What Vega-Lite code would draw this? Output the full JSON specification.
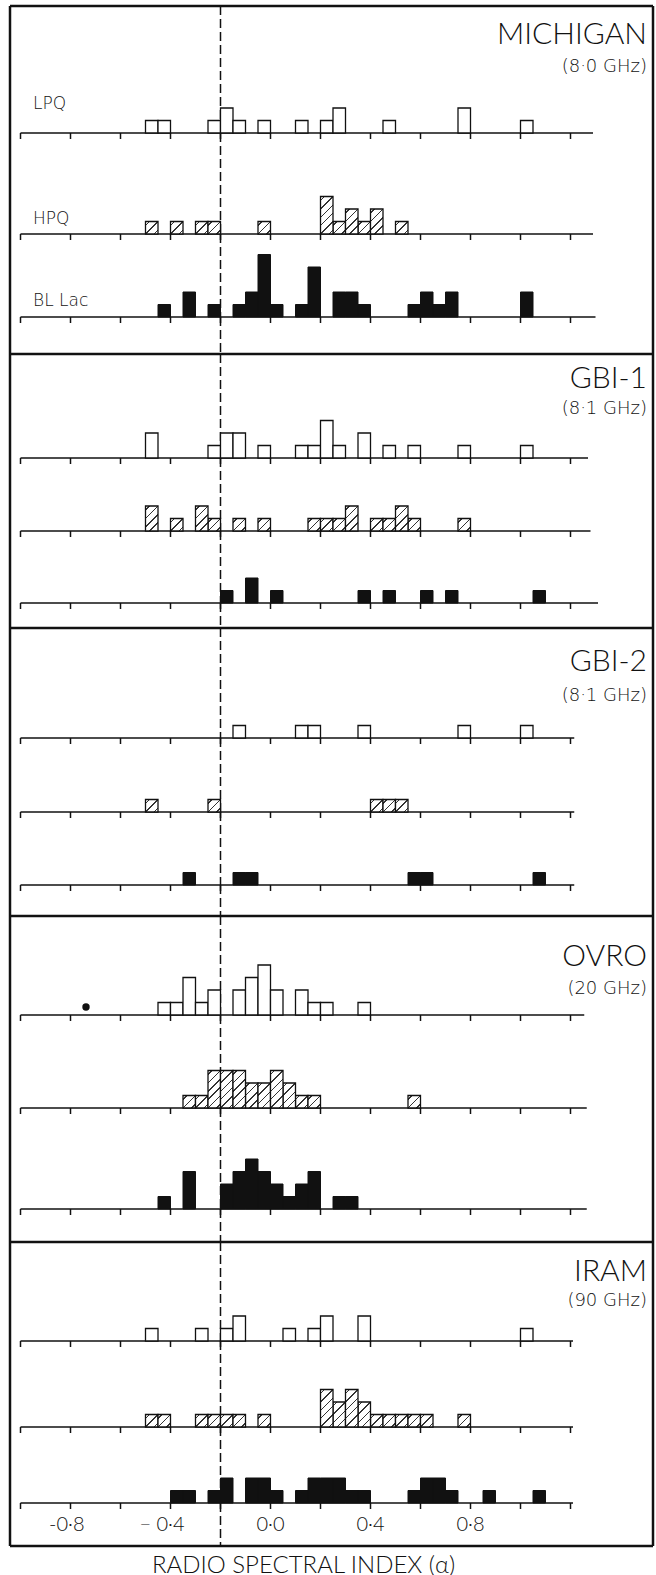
{
"$schema": "https://vega.github.io/schema/vega-lite/v6.json",
"background": "white",
"padding": {"left": 8, "top": 4, "right": 0, "bottom": 0},
"spacing": 0,
"bounds": "flush",
"config": {"view": {"stroke": null}, "font": "Lato"},
"datasets": {
"ticks": [{"v":-1},{"v":-0.8},{"v":-0.6},{"v":-0.4},{"v":-0.2},{"v":0},{"v":0.2},{"v":0.4},{"v":0.6},{"v":0.8},{"v":1},{"v":1.2}],
"ticklabels": [{"v":-0.8,"label":"-0·8"},{"v":-0.4,"label":"− 0·4"},{"v":0,"label":"0·0"},{"v":0.4,"label":"0·4"},{"v":0.8,"label":"0·8"}],
"bins": [
{"panel":"MICHIGAN","cls":"LPQ","lo":-0.5,"hi":-0.45,"n":1},
{"panel":"MICHIGAN","cls":"LPQ","lo":-0.45,"hi":-0.4,"n":1},
{"panel":"MICHIGAN","cls":"LPQ","lo":-0.25,"hi":-0.2,"n":1},
{"panel":"MICHIGAN","cls":"LPQ","lo":-0.2,"hi":-0.15,"n":2},
{"panel":"MICHIGAN","cls":"LPQ","lo":-0.15,"hi":-0.1,"n":1},
{"panel":"MICHIGAN","cls":"LPQ","lo":-0.05,"hi":0,"n":1},
{"panel":"MICHIGAN","cls":"LPQ","lo":0.1,"hi":0.15,"n":1},
{"panel":"MICHIGAN","cls":"LPQ","lo":0.2,"hi":0.25,"n":1},
{"panel":"MICHIGAN","cls":"LPQ","lo":0.25,"hi":0.3,"n":2},
{"panel":"MICHIGAN","cls":"LPQ","lo":0.45,"hi":0.5,"n":1},
{"panel":"MICHIGAN","cls":"LPQ","lo":0.75,"hi":0.8,"n":2},
{"panel":"MICHIGAN","cls":"LPQ","lo":1.0,"hi":1.05,"n":1},
{"panel":"MICHIGAN","cls":"HPQ","lo":-0.5,"hi":-0.45,"n":1},
{"panel":"MICHIGAN","cls":"HPQ","lo":-0.4,"hi":-0.35,"n":1},
{"panel":"MICHIGAN","cls":"HPQ","lo":-0.3,"hi":-0.25,"n":1},
{"panel":"MICHIGAN","cls":"HPQ","lo":-0.25,"hi":-0.2,"n":1},
{"panel":"MICHIGAN","cls":"HPQ","lo":-0.05,"hi":0,"n":1},
{"panel":"MICHIGAN","cls":"HPQ","lo":0.2,"hi":0.25,"n":3},
{"panel":"MICHIGAN","cls":"HPQ","lo":0.25,"hi":0.3,"n":1},
{"panel":"MICHIGAN","cls":"HPQ","lo":0.3,"hi":0.35,"n":2},
{"panel":"MICHIGAN","cls":"HPQ","lo":0.35,"hi":0.4,"n":1},
{"panel":"MICHIGAN","cls":"HPQ","lo":0.4,"hi":0.45,"n":2},
{"panel":"MICHIGAN","cls":"HPQ","lo":0.5,"hi":0.55,"n":1},
{"panel":"MICHIGAN","cls":"BL Lac","lo":-0.45,"hi":-0.4,"n":1},
{"panel":"MICHIGAN","cls":"BL Lac","lo":-0.35,"hi":-0.3,"n":2},
{"panel":"MICHIGAN","cls":"BL Lac","lo":-0.25,"hi":-0.2,"n":1},
{"panel":"MICHIGAN","cls":"BL Lac","lo":-0.15,"hi":-0.1,"n":1},
{"panel":"MICHIGAN","cls":"BL Lac","lo":-0.1,"hi":-0.05,"n":2},
{"panel":"MICHIGAN","cls":"BL Lac","lo":-0.05,"hi":0,"n":5},
{"panel":"MICHIGAN","cls":"BL Lac","lo":0,"hi":0.05,"n":1},
{"panel":"MICHIGAN","cls":"BL Lac","lo":0.1,"hi":0.15,"n":1},
{"panel":"MICHIGAN","cls":"BL Lac","lo":0.15,"hi":0.2,"n":4},
{"panel":"MICHIGAN","cls":"BL Lac","lo":0.25,"hi":0.3,"n":2},
{"panel":"MICHIGAN","cls":"BL Lac","lo":0.3,"hi":0.35,"n":2},
{"panel":"MICHIGAN","cls":"BL Lac","lo":0.35,"hi":0.4,"n":1},
{"panel":"MICHIGAN","cls":"BL Lac","lo":0.55,"hi":0.6,"n":1},
{"panel":"MICHIGAN","cls":"BL Lac","lo":0.6,"hi":0.65,"n":2},
{"panel":"MICHIGAN","cls":"BL Lac","lo":0.65,"hi":0.7,"n":1},
{"panel":"MICHIGAN","cls":"BL Lac","lo":0.7,"hi":0.75,"n":2},
{"panel":"MICHIGAN","cls":"BL Lac","lo":1.0,"hi":1.05,"n":2},
{"panel":"GBI-1","cls":"LPQ","lo":-0.5,"hi":-0.45,"n":2},
{"panel":"GBI-1","cls":"LPQ","lo":-0.25,"hi":-0.2,"n":1},
{"panel":"GBI-1","cls":"LPQ","lo":-0.2,"hi":-0.15,"n":2},
{"panel":"GBI-1","cls":"LPQ","lo":-0.15,"hi":-0.1,"n":2},
{"panel":"GBI-1","cls":"LPQ","lo":-0.05,"hi":0,"n":1},
{"panel":"GBI-1","cls":"LPQ","lo":0.1,"hi":0.15,"n":1},
{"panel":"GBI-1","cls":"LPQ","lo":0.15,"hi":0.2,"n":1},
{"panel":"GBI-1","cls":"LPQ","lo":0.2,"hi":0.25,"n":3},
{"panel":"GBI-1","cls":"LPQ","lo":0.25,"hi":0.3,"n":1},
{"panel":"GBI-1","cls":"LPQ","lo":0.35,"hi":0.4,"n":2},
{"panel":"GBI-1","cls":"LPQ","lo":0.45,"hi":0.5,"n":1},
{"panel":"GBI-1","cls":"LPQ","lo":0.55,"hi":0.6,"n":1},
{"panel":"GBI-1","cls":"LPQ","lo":0.75,"hi":0.8,"n":1},
{"panel":"GBI-1","cls":"LPQ","lo":1.0,"hi":1.05,"n":1},
{"panel":"GBI-1","cls":"HPQ","lo":-0.5,"hi":-0.45,"n":2},
{"panel":"GBI-1","cls":"HPQ","lo":-0.4,"hi":-0.35,"n":1},
{"panel":"GBI-1","cls":"HPQ","lo":-0.3,"hi":-0.25,"n":2},
{"panel":"GBI-1","cls":"HPQ","lo":-0.25,"hi":-0.2,"n":1},
{"panel":"GBI-1","cls":"HPQ","lo":-0.15,"hi":-0.1,"n":1},
{"panel":"GBI-1","cls":"HPQ","lo":-0.05,"hi":0,"n":1},
{"panel":"GBI-1","cls":"HPQ","lo":0.15,"hi":0.2,"n":1},
{"panel":"GBI-1","cls":"HPQ","lo":0.2,"hi":0.25,"n":1},
{"panel":"GBI-1","cls":"HPQ","lo":0.25,"hi":0.3,"n":1},
{"panel":"GBI-1","cls":"HPQ","lo":0.3,"hi":0.35,"n":2},
{"panel":"GBI-1","cls":"HPQ","lo":0.4,"hi":0.45,"n":1},
{"panel":"GBI-1","cls":"HPQ","lo":0.45,"hi":0.5,"n":1},
{"panel":"GBI-1","cls":"HPQ","lo":0.5,"hi":0.55,"n":2},
{"panel":"GBI-1","cls":"HPQ","lo":0.55,"hi":0.6,"n":1},
{"panel":"GBI-1","cls":"HPQ","lo":0.75,"hi":0.8,"n":1},
{"panel":"GBI-1","cls":"BL Lac","lo":-0.2,"hi":-0.15,"n":1},
{"panel":"GBI-1","cls":"BL Lac","lo":-0.1,"hi":-0.05,"n":2},
{"panel":"GBI-1","cls":"BL Lac","lo":0,"hi":0.05,"n":1},
{"panel":"GBI-1","cls":"BL Lac","lo":0.35,"hi":0.4,"n":1},
{"panel":"GBI-1","cls":"BL Lac","lo":0.45,"hi":0.5,"n":1},
{"panel":"GBI-1","cls":"BL Lac","lo":0.6,"hi":0.65,"n":1},
{"panel":"GBI-1","cls":"BL Lac","lo":0.7,"hi":0.75,"n":1},
{"panel":"GBI-1","cls":"BL Lac","lo":1.05,"hi":1.1,"n":1},
{"panel":"GBI-2","cls":"LPQ","lo":-0.15,"hi":-0.1,"n":1},
{"panel":"GBI-2","cls":"LPQ","lo":0.1,"hi":0.15,"n":1},
{"panel":"GBI-2","cls":"LPQ","lo":0.15,"hi":0.2,"n":1},
{"panel":"GBI-2","cls":"LPQ","lo":0.35,"hi":0.4,"n":1},
{"panel":"GBI-2","cls":"LPQ","lo":0.75,"hi":0.8,"n":1},
{"panel":"GBI-2","cls":"LPQ","lo":1.0,"hi":1.05,"n":1},
{"panel":"GBI-2","cls":"HPQ","lo":-0.5,"hi":-0.45,"n":1},
{"panel":"GBI-2","cls":"HPQ","lo":-0.25,"hi":-0.2,"n":1},
{"panel":"GBI-2","cls":"HPQ","lo":0.4,"hi":0.45,"n":1},
{"panel":"GBI-2","cls":"HPQ","lo":0.45,"hi":0.5,"n":1},
{"panel":"GBI-2","cls":"HPQ","lo":0.5,"hi":0.55,"n":1},
{"panel":"GBI-2","cls":"BL Lac","lo":-0.35,"hi":-0.3,"n":1},
{"panel":"GBI-2","cls":"BL Lac","lo":-0.15,"hi":-0.1,"n":1},
{"panel":"GBI-2","cls":"BL Lac","lo":-0.1,"hi":-0.05,"n":1},
{"panel":"GBI-2","cls":"BL Lac","lo":0.55,"hi":0.6,"n":1},
{"panel":"GBI-2","cls":"BL Lac","lo":0.6,"hi":0.65,"n":1},
{"panel":"GBI-2","cls":"BL Lac","lo":1.05,"hi":1.1,"n":1},
{"panel":"OVRO","cls":"LPQ","lo":-0.45,"hi":-0.4,"n":1},
{"panel":"OVRO","cls":"LPQ","lo":-0.4,"hi":-0.35,"n":1},
{"panel":"OVRO","cls":"LPQ","lo":-0.35,"hi":-0.3,"n":3},
{"panel":"OVRO","cls":"LPQ","lo":-0.3,"hi":-0.25,"n":1},
{"panel":"OVRO","cls":"LPQ","lo":-0.25,"hi":-0.2,"n":2},
{"panel":"OVRO","cls":"LPQ","lo":-0.15,"hi":-0.1,"n":2},
{"panel":"OVRO","cls":"LPQ","lo":-0.1,"hi":-0.05,"n":3},
{"panel":"OVRO","cls":"LPQ","lo":-0.05,"hi":0,"n":4},
{"panel":"OVRO","cls":"LPQ","lo":0,"hi":0.05,"n":2},
{"panel":"OVRO","cls":"LPQ","lo":0.1,"hi":0.15,"n":2},
{"panel":"OVRO","cls":"LPQ","lo":0.15,"hi":0.2,"n":1},
{"panel":"OVRO","cls":"LPQ","lo":0.2,"hi":0.25,"n":1},
{"panel":"OVRO","cls":"LPQ","lo":0.35,"hi":0.4,"n":1},
{"panel":"OVRO","cls":"HPQ","lo":-0.35,"hi":-0.3,"n":1},
{"panel":"OVRO","cls":"HPQ","lo":-0.3,"hi":-0.25,"n":1},
{"panel":"OVRO","cls":"HPQ","lo":-0.25,"hi":-0.2,"n":3},
{"panel":"OVRO","cls":"HPQ","lo":-0.2,"hi":-0.15,"n":3},
{"panel":"OVRO","cls":"HPQ","lo":-0.15,"hi":-0.1,"n":3},
{"panel":"OVRO","cls":"HPQ","lo":-0.1,"hi":-0.05,"n":2},
{"panel":"OVRO","cls":"HPQ","lo":-0.05,"hi":0,"n":2},
{"panel":"OVRO","cls":"HPQ","lo":0,"hi":0.05,"n":3},
{"panel":"OVRO","cls":"HPQ","lo":0.05,"hi":0.1,"n":2},
{"panel":"OVRO","cls":"HPQ","lo":0.1,"hi":0.15,"n":1},
{"panel":"OVRO","cls":"HPQ","lo":0.15,"hi":0.2,"n":1},
{"panel":"OVRO","cls":"HPQ","lo":0.55,"hi":0.6,"n":1},
{"panel":"OVRO","cls":"BL Lac","lo":-0.45,"hi":-0.4,"n":1},
{"panel":"OVRO","cls":"BL Lac","lo":-0.35,"hi":-0.3,"n":3},
{"panel":"OVRO","cls":"BL Lac","lo":-0.2,"hi":-0.15,"n":2},
{"panel":"OVRO","cls":"BL Lac","lo":-0.15,"hi":-0.1,"n":3},
{"panel":"OVRO","cls":"BL Lac","lo":-0.1,"hi":-0.05,"n":4},
{"panel":"OVRO","cls":"BL Lac","lo":-0.05,"hi":0,"n":3},
{"panel":"OVRO","cls":"BL Lac","lo":0,"hi":0.05,"n":2},
{"panel":"OVRO","cls":"BL Lac","lo":0.05,"hi":0.1,"n":1},
{"panel":"OVRO","cls":"BL Lac","lo":0.1,"hi":0.15,"n":2},
{"panel":"OVRO","cls":"BL Lac","lo":0.15,"hi":0.2,"n":3},
{"panel":"OVRO","cls":"BL Lac","lo":0.25,"hi":0.3,"n":1},
{"panel":"OVRO","cls":"BL Lac","lo":0.3,"hi":0.35,"n":1},
{"panel":"IRAM","cls":"LPQ","lo":-0.5,"hi":-0.45,"n":1},
{"panel":"IRAM","cls":"LPQ","lo":-0.3,"hi":-0.25,"n":1},
{"panel":"IRAM","cls":"LPQ","lo":-0.2,"hi":-0.15,"n":1},
{"panel":"IRAM","cls":"LPQ","lo":-0.15,"hi":-0.1,"n":2},
{"panel":"IRAM","cls":"LPQ","lo":0.05,"hi":0.1,"n":1},
{"panel":"IRAM","cls":"LPQ","lo":0.15,"hi":0.2,"n":1},
{"panel":"IRAM","cls":"LPQ","lo":0.2,"hi":0.25,"n":2},
{"panel":"IRAM","cls":"LPQ","lo":0.35,"hi":0.4,"n":2},
{"panel":"IRAM","cls":"LPQ","lo":1.0,"hi":1.05,"n":1},
{"panel":"IRAM","cls":"HPQ","lo":-0.5,"hi":-0.45,"n":1},
{"panel":"IRAM","cls":"HPQ","lo":-0.45,"hi":-0.4,"n":1},
{"panel":"IRAM","cls":"HPQ","lo":-0.3,"hi":-0.25,"n":1},
{"panel":"IRAM","cls":"HPQ","lo":-0.25,"hi":-0.2,"n":1},
{"panel":"IRAM","cls":"HPQ","lo":-0.2,"hi":-0.15,"n":1},
{"panel":"IRAM","cls":"HPQ","lo":-0.15,"hi":-0.1,"n":1},
{"panel":"IRAM","cls":"HPQ","lo":-0.05,"hi":0,"n":1},
{"panel":"IRAM","cls":"HPQ","lo":0.2,"hi":0.25,"n":3},
{"panel":"IRAM","cls":"HPQ","lo":0.25,"hi":0.3,"n":2},
{"panel":"IRAM","cls":"HPQ","lo":0.3,"hi":0.35,"n":3},
{"panel":"IRAM","cls":"HPQ","lo":0.35,"hi":0.4,"n":2},
{"panel":"IRAM","cls":"HPQ","lo":0.4,"hi":0.45,"n":1},
{"panel":"IRAM","cls":"HPQ","lo":0.45,"hi":0.5,"n":1},
{"panel":"IRAM","cls":"HPQ","lo":0.5,"hi":0.55,"n":1},
{"panel":"IRAM","cls":"HPQ","lo":0.55,"hi":0.6,"n":1},
{"panel":"IRAM","cls":"HPQ","lo":0.6,"hi":0.65,"n":1},
{"panel":"IRAM","cls":"HPQ","lo":0.75,"hi":0.8,"n":1},
{"panel":"IRAM","cls":"BL Lac","lo":-0.4,"hi":-0.35,"n":1},
{"panel":"IRAM","cls":"BL Lac","lo":-0.35,"hi":-0.3,"n":1},
{"panel":"IRAM","cls":"BL Lac","lo":-0.25,"hi":-0.2,"n":1},
{"panel":"IRAM","cls":"BL Lac","lo":-0.2,"hi":-0.15,"n":2},
{"panel":"IRAM","cls":"BL Lac","lo":-0.1,"hi":-0.05,"n":2},
{"panel":"IRAM","cls":"BL Lac","lo":-0.05,"hi":0,"n":2},
{"panel":"IRAM","cls":"BL Lac","lo":0,"hi":0.05,"n":1},
{"panel":"IRAM","cls":"BL Lac","lo":0.1,"hi":0.15,"n":1},
{"panel":"IRAM","cls":"BL Lac","lo":0.15,"hi":0.2,"n":2},
{"panel":"IRAM","cls":"BL Lac","lo":0.2,"hi":0.25,"n":2},
{"panel":"IRAM","cls":"BL Lac","lo":0.25,"hi":0.3,"n":2},
{"panel":"IRAM","cls":"BL Lac","lo":0.3,"hi":0.35,"n":1},
{"panel":"IRAM","cls":"BL Lac","lo":0.35,"hi":0.4,"n":1},
{"panel":"IRAM","cls":"BL Lac","lo":0.55,"hi":0.6,"n":1},
{"panel":"IRAM","cls":"BL Lac","lo":0.6,"hi":0.65,"n":2},
{"panel":"IRAM","cls":"BL Lac","lo":0.65,"hi":0.7,"n":2},
{"panel":"IRAM","cls":"BL Lac","lo":0.7,"hi":0.75,"n":1},
{"panel":"IRAM","cls":"BL Lac","lo":0.85,"hi":0.9,"n":1},
{"panel":"IRAM","cls":"BL Lac","lo":1.05,"hi":1.1,"n":1}
]},
"vconcat": [
{"width": 643, "height": 127, "layer": [
 {"data":{"values":[{}]},"mark":{"type":"rule","strokeWidth":2.5,"color":"#111"},"encoding":{"x":{"datum":-1.042,"type":"quantitative","scale":{"domain":[-1.042,1.53],"nice":false,"zero":false},"axis":null}}},
 {"data":{"values":[{}]},"mark":{"type":"rule","strokeWidth":2.5,"color":"#111"},"encoding":{"x":{"datum":1.53,"type":"quantitative","scale":{"domain":[-1.042,1.53],"nice":false,"zero":false},"axis":null}}},
 {"data":{"values":[{}]},"mark":{"type":"rule","strokeWidth":2.5,"color":"#111"},"encoding":{"y":{"datum":10.16,"type":"quantitative","scale":{"domain":[0,10.16],"nice":false,"zero":false},"axis":null}}},
 {"data":{"values":[{}]},"mark":{"type":"rule","strokeWidth":1.5,"strokeDash":[9,4],"color":"#111"},"encoding":{"x":{"datum":-0.2,"type":"quantitative","scale":{"domain":[-1.042,1.53],"nice":false,"zero":false},"axis":null}}},
 {"data":{"values":[{}]},"mark":{"type":"rule","strokeWidth":1.6,"color":"#111"},"encoding":{"x":{"datum":-1.0,"type":"quantitative","scale":{"domain":[-1.042,1.53],"nice":false,"zero":false},"axis":null},"x2":{"datum":1.29},"y":{"datum":0,"type":"quantitative","scale":{"domain":[0,10.16],"nice":false,"zero":false},"axis":null}}},
 {"data":{"name":"ticks"},"mark":{"type":"rule","strokeWidth":1.5,"color":"#111"},"encoding":{"x":{"field":"v","type":"quantitative","scale":{"domain":[-1.042,1.53],"nice":false,"zero":false},"axis":null},"y":{"datum":0,"type":"quantitative","scale":{"domain":[0,10.16],"nice":false,"zero":false},"axis":null},"y2":{"datum":-0.48}}},
 {"data":{"name":"bins"},"transform":[{"filter":"datum.panel==='MICHIGAN'&&datum.cls==='LPQ'"}],"mark":{"type":"rect","fill":"white","stroke":"#111","strokeWidth":1.3},"encoding":{"x":{"field":"lo","type":"quantitative","scale":{"domain":[-1.042,1.53],"nice":false,"zero":false},"axis":null},"x2":{"field":"hi"},"y":{"field":"n","type":"quantitative","scale":{"domain":[0,10.16],"nice":false,"zero":false},"axis":null},"y2":{"datum":0}}},
 {"data":{"values":[{}]},"mark":{"type":"text","align":"right","baseline":"alphabetic","font":"Lato","fontSize":30,"fontWeight":300,"fill":"#111"},"encoding":{"x":{"datum":1.506,"type":"quantitative","scale":{"domain":[-1.042,1.53],"nice":false,"zero":false},"axis":null},"y":{"datum":7.12,"type":"quantitative","scale":{"domain":[0,10.16],"nice":false,"zero":false},"axis":null},"text":{"value":"MICHIGAN"}}},
 {"data":{"values":[{}]},"mark":{"type":"text","align":"right","baseline":"alphabetic","font":"DejaVu Sans","fontSize":18,"fontWeight":200,"fill":"#111"},"encoding":{"x":{"datum":1.506,"type":"quantitative","scale":{"domain":[-1.042,1.53],"nice":false,"zero":false},"axis":null},"y":{"datum":4.88,"type":"quantitative","scale":{"domain":[0,10.16],"nice":false,"zero":false},"axis":null},"text":{"value":"(8·0 GHz)"}}},
 {"data":{"values":[{}]},"mark":{"type":"text","align":"left","baseline":"alphabetic","font":"DejaVu Sans","fontSize":17,"fontWeight":200,"fill":"#111"},"encoding":{"x":{"datum":-0.95,"type":"quantitative","scale":{"domain":[-1.042,1.53],"nice":false,"zero":false},"axis":null},"y":{"datum":1.92,"type":"quantitative","scale":{"domain":[0,10.16],"nice":false,"zero":false},"axis":null},"text":{"value":"LPQ"}}}
]},
{"width": 643, "height": 101, "layer": [
 {"data":{"values":[{}]},"mark":{"type":"rule","strokeWidth":2.5,"color":"#111"},"encoding":{"x":{"datum":-1.042,"type":"quantitative","scale":{"domain":[-1.042,1.53],"nice":false,"zero":false},"axis":null}}},
 {"data":{"values":[{}]},"mark":{"type":"rule","strokeWidth":2.5,"color":"#111"},"encoding":{"x":{"datum":1.53,"type":"quantitative","scale":{"domain":[-1.042,1.53],"nice":false,"zero":false},"axis":null}}},
 {"data":{"values":[{}]},"mark":{"type":"rule","strokeWidth":1.5,"strokeDash":[9,4],"color":"#111"},"encoding":{"x":{"datum":-0.2,"type":"quantitative","scale":{"domain":[-1.042,1.53],"nice":false,"zero":false},"axis":null}}},
 {"data":{"values":[{}]},"mark":{"type":"rule","strokeWidth":1.6,"color":"#111"},"encoding":{"x":{"datum":-1.0,"type":"quantitative","scale":{"domain":[-1.042,1.53],"nice":false,"zero":false},"axis":null},"x2":{"datum":1.29},"y":{"datum":0,"type":"quantitative","scale":{"domain":[0,8.08],"nice":false,"zero":false},"axis":null}}},
 {"data":{"name":"ticks"},"mark":{"type":"rule","strokeWidth":1.5,"color":"#111"},"encoding":{"x":{"field":"v","type":"quantitative","scale":{"domain":[-1.042,1.53],"nice":false,"zero":false},"axis":null},"y":{"datum":0,"type":"quantitative","scale":{"domain":[0,8.08],"nice":false,"zero":false},"axis":null},"y2":{"datum":-0.48}}},
 {"data":{"name":"bins"},"transform":[{"filter":"datum.panel==='MICHIGAN'&&datum.cls==='HPQ'&&datum.n===1"}],"mark":{"type":"rect","stroke":"#111","strokeWidth":1.3,"fill":{"gradient":"linear","x1":0,"y1":0,"x2":1,"y2":1,"stops":[{"offset":0,"color":"#fff"},{"offset":0.135,"color":"#fff"},{"offset":0.135,"color":"#333"},{"offset":0.199,"color":"#333"},{"offset":0.199,"color":"#fff"},{"offset":0.468,"color":"#fff"},{"offset":0.468,"color":"#333"},{"offset":0.532,"color":"#333"},{"offset":0.532,"color":"#fff"},{"offset":0.801,"color":"#fff"},{"offset":0.801,"color":"#333"},{"offset":0.865,"color":"#333"},{"offset":0.865,"color":"#fff"},{"offset":1,"color":"#fff"}]}},"encoding":{"x":{"field":"lo","type":"quantitative","scale":{"domain":[-1.042,1.53],"nice":false,"zero":false},"axis":null},"x2":{"field":"hi"},"y":{"field":"n","type":"quantitative","scale":{"domain":[0,8.08],"nice":false,"zero":false},"axis":null},"y2":{"datum":0}}},
 {"data":{"name":"bins"},"transform":[{"filter":"datum.panel==='MICHIGAN'&&datum.cls==='HPQ'&&datum.n===2"}],"mark":{"type":"rect","stroke":"#111","strokeWidth":1.3,"fill":{"gradient":"linear","x1":0,"y1":0,"x2":0.6,"y2":1.2,"stops":[{"offset":0,"color":"#fff"},{"offset":0.09,"color":"#fff"},{"offset":0.09,"color":"#333"},{"offset":0.132,"color":"#333"},{"offset":0.132,"color":"#fff"},{"offset":0.312,"color":"#fff"},{"offset":0.312,"color":"#333"},{"offset":0.354,"color":"#333"},{"offset":0.354,"color":"#fff"},{"offset":0.535,"color":"#fff"},{"offset":0.535,"color":"#333"},{"offset":0.577,"color":"#333"},{"offset":0.577,"color":"#fff"},{"offset":0.757,"color":"#fff"},{"offset":0.757,"color":"#333"},{"offset":0.799,"color":"#333"},{"offset":0.799,"color":"#fff"},{"offset":1,"color":"#fff"}]}},"encoding":{"x":{"field":"lo","type":"quantitative","scale":{"domain":[-1.042,1.53],"nice":false,"zero":false},"axis":null},"x2":{"field":"hi"},"y":{"field":"n","type":"quantitative","scale":{"domain":[0,8.08],"nice":false,"zero":false},"axis":null},"y2":{"datum":0}}},
 {"data":{"name":"bins"},"transform":[{"filter":"datum.panel==='MICHIGAN'&&datum.cls==='HPQ'&&datum.n===3"}],"mark":{"type":"rect","stroke":"#111","strokeWidth":1.3,"fill":{"gradient":"linear","x1":0,"y1":0,"x2":0.4,"y2":1.2,"stops":[{"offset":0,"color":"#fff"},{"offset":0.067,"color":"#fff"},{"offset":0.067,"color":"#333"},{"offset":0.099,"color":"#333"},{"offset":0.099,"color":"#fff"},{"offset":0.234,"color":"#fff"},{"offset":0.234,"color":"#333"},{"offset":0.266,"color":"#333"},{"offset":0.266,"color":"#fff"},{"offset":0.401,"color":"#fff"},{"offset":0.401,"color":"#333"},{"offset":0.433,"color":"#333"},{"offset":0.433,"color":"#fff"},{"offset":0.567,"color":"#fff"},{"offset":0.567,"color":"#333"},{"offset":0.599,"color":"#333"},{"offset":0.599,"color":"#fff"},{"offset":0.734,"color":"#fff"},{"offset":0.734,"color":"#333"},{"offset":0.766,"color":"#333"},{"offset":0.766,"color":"#fff"},{"offset":0.901,"color":"#fff"},{"offset":0.901,"color":"#333"},{"offset":0.933,"color":"#333"},{"offset":0.933,"color":"#fff"},{"offset":1,"color":"#fff"}]}},"encoding":{"x":{"field":"lo","type":"quantitative","scale":{"domain":[-1.042,1.53],"nice":false,"zero":false},"axis":null},"x2":{"field":"hi"},"y":{"field":"n","type":"quantitative","scale":{"domain":[0,8.08],"nice":false,"zero":false},"axis":null},"y2":{"datum":0}}},
 {"data":{"values":[{}]},"mark":{"type":"text","align":"left","baseline":"alphabetic","font":"DejaVu Sans","fontSize":17,"fontWeight":200,"fill":"#111"},"encoding":{"x":{"datum":-0.95,"type":"quantitative","scale":{"domain":[-1.042,1.53],"nice":false,"zero":false},"axis":null},"y":{"datum":0.8,"type":"quantitative","scale":{"domain":[0,8.08],"nice":false,"zero":false},"axis":null},"text":{"value":"HPQ"}}}
]},
{"width": 643, "height": 83, "layer": [
 {"data":{"values":[{}]},"mark":{"type":"rule","strokeWidth":2.5,"color":"#111"},"encoding":{"x":{"datum":-1.042,"type":"quantitative","scale":{"domain":[-1.042,1.53],"nice":false,"zero":false},"axis":null}}},
 {"data":{"values":[{}]},"mark":{"type":"rule","strokeWidth":2.5,"color":"#111"},"encoding":{"x":{"datum":1.53,"type":"quantitative","scale":{"domain":[-1.042,1.53],"nice":false,"zero":false},"axis":null}}},
 {"data":{"values":[{}]},"mark":{"type":"rule","strokeWidth":1.5,"strokeDash":[9,4],"color":"#111"},"encoding":{"x":{"datum":-0.2,"type":"quantitative","scale":{"domain":[-1.042,1.53],"nice":false,"zero":false},"axis":null}}},
 {"data":{"values":[{}]},"mark":{"type":"rule","strokeWidth":1.6,"color":"#111"},"encoding":{"x":{"datum":-1.0,"type":"quantitative","scale":{"domain":[-1.042,1.53],"nice":false,"zero":false},"axis":null},"x2":{"datum":1.3},"y":{"datum":0,"type":"quantitative","scale":{"domain":[0,6.64],"nice":false,"zero":false},"axis":null}}},
 {"data":{"name":"ticks"},"mark":{"type":"rule","strokeWidth":1.5,"color":"#111"},"encoding":{"x":{"field":"v","type":"quantitative","scale":{"domain":[-1.042,1.53],"nice":false,"zero":false},"axis":null},"y":{"datum":0,"type":"quantitative","scale":{"domain":[0,6.64],"nice":false,"zero":false},"axis":null},"y2":{"datum":-0.48}}},
 {"data":{"name":"bins"},"transform":[{"filter":"datum.panel==='MICHIGAN'&&datum.cls==='BL Lac'"}],"mark":{"type":"rect","fill":"#111","stroke":"#111","strokeWidth":1},"encoding":{"x":{"field":"lo","type":"quantitative","scale":{"domain":[-1.042,1.53],"nice":false,"zero":false},"axis":null},"x2":{"field":"hi"},"y":{"field":"n","type":"quantitative","scale":{"domain":[0,6.64],"nice":false,"zero":false},"axis":null},"y2":{"datum":0}}},
 {"data":{"values":[{}]},"mark":{"type":"text","align":"left","baseline":"alphabetic","font":"DejaVu Sans","fontSize":17,"fontWeight":200,"fill":"#111"},"encoding":{"x":{"datum":-0.95,"type":"quantitative","scale":{"domain":[-1.042,1.53],"nice":false,"zero":false},"axis":null},"y":{"datum":0.88,"type":"quantitative","scale":{"domain":[0,6.64],"nice":false,"zero":false},"axis":null},"text":{"value":"BL Lac"}}}
]},
{"width": 643, "height": 37, "layer": [
 {"data":{"values":[{}]},"mark":{"type":"rule","strokeWidth":2.5,"color":"#111"},"encoding":{"x":{"datum":-1.042,"type":"quantitative","scale":{"domain":[-1.042,1.53],"nice":false,"zero":false},"axis":null}}},
 {"data":{"values":[{}]},"mark":{"type":"rule","strokeWidth":2.5,"color":"#111"},"encoding":{"x":{"datum":1.53,"type":"quantitative","scale":{"domain":[-1.042,1.53],"nice":false,"zero":false},"axis":null}}},
 {"data":{"values":[{}]},"mark":{"type":"rule","strokeWidth":1.5,"strokeDash":[9,4],"color":"#111"},"encoding":{"x":{"datum":-0.2,"type":"quantitative","scale":{"domain":[-1.042,1.53],"nice":false,"zero":false},"axis":null}}}
]},
{"width": 643, "height": 104, "layer": [
 {"data":{"values":[{}]},"mark":{"type":"rule","strokeWidth":2.5,"color":"#111"},"encoding":{"x":{"datum":-1.042,"type":"quantitative","scale":{"domain":[-1.042,1.53],"nice":false,"zero":false},"axis":null}}},
 {"data":{"values":[{}]},"mark":{"type":"rule","strokeWidth":2.5,"color":"#111"},"encoding":{"x":{"datum":1.53,"type":"quantitative","scale":{"domain":[-1.042,1.53],"nice":false,"zero":false},"axis":null}}},
 {"data":{"values":[{}]},"mark":{"type":"rule","strokeWidth":2.5,"color":"#111"},"encoding":{"y":{"datum":8.32,"type":"quantitative","scale":{"domain":[0,8.32],"nice":false,"zero":false},"axis":null}}},
 {"data":{"values":[{}]},"mark":{"type":"rule","strokeWidth":1.5,"strokeDash":[9,4],"color":"#111"},"encoding":{"x":{"datum":-0.2,"type":"quantitative","scale":{"domain":[-1.042,1.53],"nice":false,"zero":false},"axis":null}}},
 {"data":{"values":[{}]},"mark":{"type":"rule","strokeWidth":1.6,"color":"#111"},"encoding":{"x":{"datum":-1.0,"type":"quantitative","scale":{"domain":[-1.042,1.53],"nice":false,"zero":false},"axis":null},"x2":{"datum":1.27},"y":{"datum":0,"type":"quantitative","scale":{"domain":[0,8.32],"nice":false,"zero":false},"axis":null}}},
 {"data":{"name":"ticks"},"mark":{"type":"rule","strokeWidth":1.5,"color":"#111"},"encoding":{"x":{"field":"v","type":"quantitative","scale":{"domain":[-1.042,1.53],"nice":false,"zero":false},"axis":null},"y":{"datum":0,"type":"quantitative","scale":{"domain":[0,8.32],"nice":false,"zero":false},"axis":null},"y2":{"datum":-0.48}}},
 {"data":{"name":"bins"},"transform":[{"filter":"datum.panel==='GBI-1'&&datum.cls==='LPQ'"}],"mark":{"type":"rect","fill":"white","stroke":"#111","strokeWidth":1.3},"encoding":{"x":{"field":"lo","type":"quantitative","scale":{"domain":[-1.042,1.53],"nice":false,"zero":false},"axis":null},"x2":{"field":"hi"},"y":{"field":"n","type":"quantitative","scale":{"domain":[0,8.32],"nice":false,"zero":false},"axis":null},"y2":{"datum":0}}},
 {"data":{"values":[{}]},"mark":{"type":"text","align":"right","baseline":"alphabetic","font":"Lato","fontSize":30,"fontWeight":300,"fill":"#111"},"encoding":{"x":{"datum":1.506,"type":"quantitative","scale":{"domain":[-1.042,1.53],"nice":false,"zero":false},"axis":null},"y":{"datum":5.6,"type":"quantitative","scale":{"domain":[0,8.32],"nice":false,"zero":false},"axis":null},"text":{"value":"GBI-1"}}},
 {"data":{"values":[{}]},"mark":{"type":"text","align":"right","baseline":"alphabetic","font":"DejaVu Sans","fontSize":18,"fontWeight":200,"fill":"#111"},"encoding":{"x":{"datum":1.506,"type":"quantitative","scale":{"domain":[-1.042,1.53],"nice":false,"zero":false},"axis":null},"y":{"datum":3.52,"type":"quantitative","scale":{"domain":[0,8.32],"nice":false,"zero":false},"axis":null},"text":{"value":"(8·1 GHz)"}}}
]},
{"width": 643, "height": 73, "layer": [
 {"data":{"values":[{}]},"mark":{"type":"rule","strokeWidth":2.5,"color":"#111"},"encoding":{"x":{"datum":-1.042,"type":"quantitative","scale":{"domain":[-1.042,1.53],"nice":false,"zero":false},"axis":null}}},
 {"data":{"values":[{}]},"mark":{"type":"rule","strokeWidth":2.5,"color":"#111"},"encoding":{"x":{"datum":1.53,"type":"quantitative","scale":{"domain":[-1.042,1.53],"nice":false,"zero":false},"axis":null}}},
 {"data":{"values":[{}]},"mark":{"type":"rule","strokeWidth":1.5,"strokeDash":[9,4],"color":"#111"},"encoding":{"x":{"datum":-0.2,"type":"quantitative","scale":{"domain":[-1.042,1.53],"nice":false,"zero":false},"axis":null}}},
 {"data":{"values":[{}]},"mark":{"type":"rule","strokeWidth":1.6,"color":"#111"},"encoding":{"x":{"datum":-1.0,"type":"quantitative","scale":{"domain":[-1.042,1.53],"nice":false,"zero":false},"axis":null},"x2":{"datum":1.28},"y":{"datum":0,"type":"quantitative","scale":{"domain":[0,5.84],"nice":false,"zero":false},"axis":null}}},
 {"data":{"name":"ticks"},"mark":{"type":"rule","strokeWidth":1.5,"color":"#111"},"encoding":{"x":{"field":"v","type":"quantitative","scale":{"domain":[-1.042,1.53],"nice":false,"zero":false},"axis":null},"y":{"datum":0,"type":"quantitative","scale":{"domain":[0,5.84],"nice":false,"zero":false},"axis":null},"y2":{"datum":-0.48}}},
 {"data":{"name":"bins"},"transform":[{"filter":"datum.panel==='GBI-1'&&datum.cls==='HPQ'&&datum.n===1"}],"mark":{"type":"rect","stroke":"#111","strokeWidth":1.3,"fill":{"gradient":"linear","x1":0,"y1":0,"x2":1,"y2":1,"stops":[{"offset":0,"color":"#fff"},{"offset":0.135,"color":"#fff"},{"offset":0.135,"color":"#333"},{"offset":0.199,"color":"#333"},{"offset":0.199,"color":"#fff"},{"offset":0.468,"color":"#fff"},{"offset":0.468,"color":"#333"},{"offset":0.532,"color":"#333"},{"offset":0.532,"color":"#fff"},{"offset":0.801,"color":"#fff"},{"offset":0.801,"color":"#333"},{"offset":0.865,"color":"#333"},{"offset":0.865,"color":"#fff"},{"offset":1,"color":"#fff"}]}},"encoding":{"x":{"field":"lo","type":"quantitative","scale":{"domain":[-1.042,1.53],"nice":false,"zero":false},"axis":null},"x2":{"field":"hi"},"y":{"field":"n","type":"quantitative","scale":{"domain":[0,5.84],"nice":false,"zero":false},"axis":null},"y2":{"datum":0}}},
 {"data":{"name":"bins"},"transform":[{"filter":"datum.panel==='GBI-1'&&datum.cls==='HPQ'&&datum.n===2"}],"mark":{"type":"rect","stroke":"#111","strokeWidth":1.3,"fill":{"gradient":"linear","x1":0,"y1":0,"x2":0.6,"y2":1.2,"stops":[{"offset":0,"color":"#fff"},{"offset":0.09,"color":"#fff"},{"offset":0.09,"color":"#333"},{"offset":0.132,"color":"#333"},{"offset":0.132,"color":"#fff"},{"offset":0.312,"color":"#fff"},{"offset":0.312,"color":"#333"},{"offset":0.354,"color":"#333"},{"offset":0.354,"color":"#fff"},{"offset":0.535,"color":"#fff"},{"offset":0.535,"color":"#333"},{"offset":0.577,"color":"#333"},{"offset":0.577,"color":"#fff"},{"offset":0.757,"color":"#fff"},{"offset":0.757,"color":"#333"},{"offset":0.799,"color":"#333"},{"offset":0.799,"color":"#fff"},{"offset":1,"color":"#fff"}]}},"encoding":{"x":{"field":"lo","type":"quantitative","scale":{"domain":[-1.042,1.53],"nice":false,"zero":false},"axis":null},"x2":{"field":"hi"},"y":{"field":"n","type":"quantitative","scale":{"domain":[0,5.84],"nice":false,"zero":false},"axis":null},"y2":{"datum":0}}}
]},
{"width": 643, "height": 72, "layer": [
 {"data":{"values":[{}]},"mark":{"type":"rule","strokeWidth":2.5,"color":"#111"},"encoding":{"x":{"datum":-1.042,"type":"quantitative","scale":{"domain":[-1.042,1.53],"nice":false,"zero":false},"axis":null}}},
 {"data":{"values":[{}]},"mark":{"type":"rule","strokeWidth":2.5,"color":"#111"},"encoding":{"x":{"datum":1.53,"type":"quantitative","scale":{"domain":[-1.042,1.53],"nice":false,"zero":false},"axis":null}}},
 {"data":{"values":[{}]},"mark":{"type":"rule","strokeWidth":1.5,"strokeDash":[9,4],"color":"#111"},"encoding":{"x":{"datum":-0.2,"type":"quantitative","scale":{"domain":[-1.042,1.53],"nice":false,"zero":false},"axis":null}}},
 {"data":{"values":[{}]},"mark":{"type":"rule","strokeWidth":1.6,"color":"#111"},"encoding":{"x":{"datum":-1.0,"type":"quantitative","scale":{"domain":[-1.042,1.53],"nice":false,"zero":false},"axis":null},"x2":{"datum":1.31},"y":{"datum":0,"type":"quantitative","scale":{"domain":[0,5.76],"nice":false,"zero":false},"axis":null}}},
 {"data":{"name":"ticks"},"mark":{"type":"rule","strokeWidth":1.5,"color":"#111"},"encoding":{"x":{"field":"v","type":"quantitative","scale":{"domain":[-1.042,1.53],"nice":false,"zero":false},"axis":null},"y":{"datum":0,"type":"quantitative","scale":{"domain":[0,5.76],"nice":false,"zero":false},"axis":null},"y2":{"datum":-0.48}}},
 {"data":{"name":"bins"},"transform":[{"filter":"datum.panel==='GBI-1'&&datum.cls==='BL Lac'"}],"mark":{"type":"rect","fill":"#111","stroke":"#111","strokeWidth":1},"encoding":{"x":{"field":"lo","type":"quantitative","scale":{"domain":[-1.042,1.53],"nice":false,"zero":false},"axis":null},"x2":{"field":"hi"},"y":{"field":"n","type":"quantitative","scale":{"domain":[0,5.76],"nice":false,"zero":false},"axis":null},"y2":{"datum":0}}}
]},
{"width": 643, "height": 25, "layer": [
 {"data":{"values":[{}]},"mark":{"type":"rule","strokeWidth":2.5,"color":"#111"},"encoding":{"x":{"datum":-1.042,"type":"quantitative","scale":{"domain":[-1.042,1.53],"nice":false,"zero":false},"axis":null}}},
 {"data":{"values":[{}]},"mark":{"type":"rule","strokeWidth":2.5,"color":"#111"},"encoding":{"x":{"datum":1.53,"type":"quantitative","scale":{"domain":[-1.042,1.53],"nice":false,"zero":false},"axis":null}}},
 {"data":{"values":[{}]},"mark":{"type":"rule","strokeWidth":1.5,"strokeDash":[9,4],"color":"#111"},"encoding":{"x":{"datum":-0.2,"type":"quantitative","scale":{"domain":[-1.042,1.53],"nice":false,"zero":false},"axis":null}}}
]},
{"width": 643, "height": 110, "layer": [
 {"data":{"values":[{}]},"mark":{"type":"rule","strokeWidth":2.5,"color":"#111"},"encoding":{"x":{"datum":-1.042,"type":"quantitative","scale":{"domain":[-1.042,1.53],"nice":false,"zero":false},"axis":null}}},
 {"data":{"values":[{}]},"mark":{"type":"rule","strokeWidth":2.5,"color":"#111"},"encoding":{"x":{"datum":1.53,"type":"quantitative","scale":{"domain":[-1.042,1.53],"nice":false,"zero":false},"axis":null}}},
 {"data":{"values":[{}]},"mark":{"type":"rule","strokeWidth":2.5,"color":"#111"},"encoding":{"y":{"datum":8.8,"type":"quantitative","scale":{"domain":[0,8.8],"nice":false,"zero":false},"axis":null}}},
 {"data":{"values":[{}]},"mark":{"type":"rule","strokeWidth":1.5,"strokeDash":[9,4],"color":"#111"},"encoding":{"x":{"datum":-0.2,"type":"quantitative","scale":{"domain":[-1.042,1.53],"nice":false,"zero":false},"axis":null}}},
 {"data":{"values":[{}]},"mark":{"type":"rule","strokeWidth":1.6,"color":"#111"},"encoding":{"x":{"datum":-1.0,"type":"quantitative","scale":{"domain":[-1.042,1.53],"nice":false,"zero":false},"axis":null},"x2":{"datum":1.215},"y":{"datum":0,"type":"quantitative","scale":{"domain":[0,8.8],"nice":false,"zero":false},"axis":null}}},
 {"data":{"name":"ticks"},"mark":{"type":"rule","strokeWidth":1.5,"color":"#111"},"encoding":{"x":{"field":"v","type":"quantitative","scale":{"domain":[-1.042,1.53],"nice":false,"zero":false},"axis":null},"y":{"datum":0,"type":"quantitative","scale":{"domain":[0,8.8],"nice":false,"zero":false},"axis":null},"y2":{"datum":-0.48}}},
 {"data":{"name":"bins"},"transform":[{"filter":"datum.panel==='GBI-2'&&datum.cls==='LPQ'"}],"mark":{"type":"rect","fill":"white","stroke":"#111","strokeWidth":1.3},"encoding":{"x":{"field":"lo","type":"quantitative","scale":{"domain":[-1.042,1.53],"nice":false,"zero":false},"axis":null},"x2":{"field":"hi"},"y":{"field":"n","type":"quantitative","scale":{"domain":[0,8.8],"nice":false,"zero":false},"axis":null},"y2":{"datum":0}}},
 {"data":{"values":[{}]},"mark":{"type":"text","align":"right","baseline":"alphabetic","font":"Lato","fontSize":30,"fontWeight":300,"fill":"#111"},"encoding":{"x":{"datum":1.506,"type":"quantitative","scale":{"domain":[-1.042,1.53],"nice":false,"zero":false},"axis":null},"y":{"datum":5.36,"type":"quantitative","scale":{"domain":[0,8.8],"nice":false,"zero":false},"axis":null},"text":{"value":"GBI-2"}}},
 {"data":{"values":[{}]},"mark":{"type":"text","align":"right","baseline":"alphabetic","font":"DejaVu Sans","fontSize":18,"fontWeight":200,"fill":"#111"},"encoding":{"x":{"datum":1.506,"type":"quantitative","scale":{"domain":[-1.042,1.53],"nice":false,"zero":false},"axis":null},"y":{"datum":2.96,"type":"quantitative","scale":{"domain":[0,8.8],"nice":false,"zero":false},"axis":null},"text":{"value":"(8·1 GHz)"}}}
]},
{"width": 643, "height": 74, "layer": [
 {"data":{"values":[{}]},"mark":{"type":"rule","strokeWidth":2.5,"color":"#111"},"encoding":{"x":{"datum":-1.042,"type":"quantitative","scale":{"domain":[-1.042,1.53],"nice":false,"zero":false},"axis":null}}},
 {"data":{"values":[{}]},"mark":{"type":"rule","strokeWidth":2.5,"color":"#111"},"encoding":{"x":{"datum":1.53,"type":"quantitative","scale":{"domain":[-1.042,1.53],"nice":false,"zero":false},"axis":null}}},
 {"data":{"values":[{}]},"mark":{"type":"rule","strokeWidth":1.5,"strokeDash":[9,4],"color":"#111"},"encoding":{"x":{"datum":-0.2,"type":"quantitative","scale":{"domain":[-1.042,1.53],"nice":false,"zero":false},"axis":null}}},
 {"data":{"values":[{}]},"mark":{"type":"rule","strokeWidth":1.6,"color":"#111"},"encoding":{"x":{"datum":-1.0,"type":"quantitative","scale":{"domain":[-1.042,1.53],"nice":false,"zero":false},"axis":null},"x2":{"datum":1.215},"y":{"datum":0,"type":"quantitative","scale":{"domain":[0,5.92],"nice":false,"zero":false},"axis":null}}},
 {"data":{"name":"ticks"},"mark":{"type":"rule","strokeWidth":1.5,"color":"#111"},"encoding":{"x":{"field":"v","type":"quantitative","scale":{"domain":[-1.042,1.53],"nice":false,"zero":false},"axis":null},"y":{"datum":0,"type":"quantitative","scale":{"domain":[0,5.92],"nice":false,"zero":false},"axis":null},"y2":{"datum":-0.48}}},
 {"data":{"name":"bins"},"transform":[{"filter":"datum.panel==='GBI-2'&&datum.cls==='HPQ'&&datum.n===1"}],"mark":{"type":"rect","stroke":"#111","strokeWidth":1.3,"fill":{"gradient":"linear","x1":0,"y1":0,"x2":1,"y2":1,"stops":[{"offset":0,"color":"#fff"},{"offset":0.135,"color":"#fff"},{"offset":0.135,"color":"#333"},{"offset":0.199,"color":"#333"},{"offset":0.199,"color":"#fff"},{"offset":0.468,"color":"#fff"},{"offset":0.468,"color":"#333"},{"offset":0.532,"color":"#333"},{"offset":0.532,"color":"#fff"},{"offset":0.801,"color":"#fff"},{"offset":0.801,"color":"#333"},{"offset":0.865,"color":"#333"},{"offset":0.865,"color":"#fff"},{"offset":1,"color":"#fff"}]}},"encoding":{"x":{"field":"lo","type":"quantitative","scale":{"domain":[-1.042,1.53],"nice":false,"zero":false},"axis":null},"x2":{"field":"hi"},"y":{"field":"n","type":"quantitative","scale":{"domain":[0,5.92],"nice":false,"zero":false},"axis":null},"y2":{"datum":0}}}
]},
{"width": 643, "height": 73, "layer": [
 {"data":{"values":[{}]},"mark":{"type":"rule","strokeWidth":2.5,"color":"#111"},"encoding":{"x":{"datum":-1.042,"type":"quantitative","scale":{"domain":[-1.042,1.53],"nice":false,"zero":false},"axis":null}}},
 {"data":{"values":[{}]},"mark":{"type":"rule","strokeWidth":2.5,"color":"#111"},"encoding":{"x":{"datum":1.53,"type":"quantitative","scale":{"domain":[-1.042,1.53],"nice":false,"zero":false},"axis":null}}},
 {"data":{"values":[{}]},"mark":{"type":"rule","strokeWidth":1.5,"strokeDash":[9,4],"color":"#111"},"encoding":{"x":{"datum":-0.2,"type":"quantitative","scale":{"domain":[-1.042,1.53],"nice":false,"zero":false},"axis":null}}},
 {"data":{"values":[{}]},"mark":{"type":"rule","strokeWidth":1.6,"color":"#111"},"encoding":{"x":{"datum":-1.0,"type":"quantitative","scale":{"domain":[-1.042,1.53],"nice":false,"zero":false},"axis":null},"x2":{"datum":1.215},"y":{"datum":0,"type":"quantitative","scale":{"domain":[0,5.84],"nice":false,"zero":false},"axis":null}}},
 {"data":{"name":"ticks"},"mark":{"type":"rule","strokeWidth":1.5,"color":"#111"},"encoding":{"x":{"field":"v","type":"quantitative","scale":{"domain":[-1.042,1.53],"nice":false,"zero":false},"axis":null},"y":{"datum":0,"type":"quantitative","scale":{"domain":[0,5.84],"nice":false,"zero":false},"axis":null},"y2":{"datum":-0.48}}},
 {"data":{"name":"bins"},"transform":[{"filter":"datum.panel==='GBI-2'&&datum.cls==='BL Lac'"}],"mark":{"type":"rect","fill":"#111","stroke":"#111","strokeWidth":1},"encoding":{"x":{"field":"lo","type":"quantitative","scale":{"domain":[-1.042,1.53],"nice":false,"zero":false},"axis":null},"x2":{"field":"hi"},"y":{"field":"n","type":"quantitative","scale":{"domain":[0,5.84],"nice":false,"zero":false},"axis":null},"y2":{"datum":0}}}
]},
{"width": 643, "height": 31, "layer": [
 {"data":{"values":[{}]},"mark":{"type":"rule","strokeWidth":2.5,"color":"#111"},"encoding":{"x":{"datum":-1.042,"type":"quantitative","scale":{"domain":[-1.042,1.53],"nice":false,"zero":false},"axis":null}}},
 {"data":{"values":[{}]},"mark":{"type":"rule","strokeWidth":2.5,"color":"#111"},"encoding":{"x":{"datum":1.53,"type":"quantitative","scale":{"domain":[-1.042,1.53],"nice":false,"zero":false},"axis":null}}},
 {"data":{"values":[{}]},"mark":{"type":"rule","strokeWidth":1.5,"strokeDash":[9,4],"color":"#111"},"encoding":{"x":{"datum":-0.2,"type":"quantitative","scale":{"domain":[-1.042,1.53],"nice":false,"zero":false},"axis":null}}}
]},
{"width": 643, "height": 99, "layer": [
 {"data":{"values":[{}]},"mark":{"type":"rule","strokeWidth":2.5,"color":"#111"},"encoding":{"x":{"datum":-1.042,"type":"quantitative","scale":{"domain":[-1.042,1.53],"nice":false,"zero":false},"axis":null}}},
 {"data":{"values":[{}]},"mark":{"type":"rule","strokeWidth":2.5,"color":"#111"},"encoding":{"x":{"datum":1.53,"type":"quantitative","scale":{"domain":[-1.042,1.53],"nice":false,"zero":false},"axis":null}}},
 {"data":{"values":[{}]},"mark":{"type":"rule","strokeWidth":2.5,"color":"#111"},"encoding":{"y":{"datum":7.92,"type":"quantitative","scale":{"domain":[0,7.92],"nice":false,"zero":false},"axis":null}}},
 {"data":{"values":[{}]},"mark":{"type":"rule","strokeWidth":1.5,"strokeDash":[9,4],"color":"#111"},"encoding":{"x":{"datum":-0.2,"type":"quantitative","scale":{"domain":[-1.042,1.53],"nice":false,"zero":false},"axis":null}}},
 {"data":{"values":[{}]},"mark":{"type":"rule","strokeWidth":1.6,"color":"#111"},"encoding":{"x":{"datum":-1.0,"type":"quantitative","scale":{"domain":[-1.042,1.53],"nice":false,"zero":false},"axis":null},"x2":{"datum":1.255},"y":{"datum":0,"type":"quantitative","scale":{"domain":[0,7.92],"nice":false,"zero":false},"axis":null}}},
 {"data":{"name":"ticks"},"mark":{"type":"rule","strokeWidth":1.5,"color":"#111"},"encoding":{"x":{"field":"v","type":"quantitative","scale":{"domain":[-1.042,1.53],"nice":false,"zero":false},"axis":null},"y":{"datum":0,"type":"quantitative","scale":{"domain":[0,7.92],"nice":false,"zero":false},"axis":null},"y2":{"datum":-0.48}}},
 {"data":{"name":"bins"},"transform":[{"filter":"datum.panel==='OVRO'&&datum.cls==='LPQ'"}],"mark":{"type":"rect","fill":"white","stroke":"#111","strokeWidth":1.3},"encoding":{"x":{"field":"lo","type":"quantitative","scale":{"domain":[-1.042,1.53],"nice":false,"zero":false},"axis":null},"x2":{"field":"hi"},"y":{"field":"n","type":"quantitative","scale":{"domain":[0,7.92],"nice":false,"zero":false},"axis":null},"y2":{"datum":0}}},
 {"data":{"values":[{}]},"mark":{"type":"circle","size":55,"color":"#111","opacity":1},"encoding":{"x":{"datum":-0.738,"type":"quantitative","scale":{"domain":[-1.042,1.53],"nice":false,"zero":false},"axis":null},"y":{"datum":0.64,"type":"quantitative","scale":{"domain":[0,7.92],"nice":false,"zero":false},"axis":null}}},
 {"data":{"values":[{}]},"mark":{"type":"text","align":"right","baseline":"alphabetic","font":"Lato","fontSize":30,"fontWeight":300,"fill":"#111"},"encoding":{"x":{"datum":1.506,"type":"quantitative","scale":{"domain":[-1.042,1.53],"nice":false,"zero":false},"axis":null},"y":{"datum":3.92,"type":"quantitative","scale":{"domain":[0,7.92],"nice":false,"zero":false},"axis":null},"text":{"value":"OVRO"}}},
 {"data":{"values":[{}]},"mark":{"type":"text","align":"right","baseline":"alphabetic","font":"DejaVu Sans","fontSize":18,"fontWeight":200,"fill":"#111"},"encoding":{"x":{"datum":1.506,"type":"quantitative","scale":{"domain":[-1.042,1.53],"nice":false,"zero":false},"axis":null},"y":{"datum":1.68,"type":"quantitative","scale":{"domain":[0,7.92],"nice":false,"zero":false},"axis":null},"text":{"value":"(20 GHz)"}}}
]},
{"width": 643, "height": 93, "layer": [
 {"data":{"values":[{}]},"mark":{"type":"rule","strokeWidth":2.5,"color":"#111"},"encoding":{"x":{"datum":-1.042,"type":"quantitative","scale":{"domain":[-1.042,1.53],"nice":false,"zero":false},"axis":null}}},
 {"data":{"values":[{}]},"mark":{"type":"rule","strokeWidth":2.5,"color":"#111"},"encoding":{"x":{"datum":1.53,"type":"quantitative","scale":{"domain":[-1.042,1.53],"nice":false,"zero":false},"axis":null}}},
 {"data":{"values":[{}]},"mark":{"type":"rule","strokeWidth":1.5,"strokeDash":[9,4],"color":"#111"},"encoding":{"x":{"datum":-0.2,"type":"quantitative","scale":{"domain":[-1.042,1.53],"nice":false,"zero":false},"axis":null}}},
 {"data":{"values":[{}]},"mark":{"type":"rule","strokeWidth":1.6,"color":"#111"},"encoding":{"x":{"datum":-1.0,"type":"quantitative","scale":{"domain":[-1.042,1.53],"nice":false,"zero":false},"axis":null},"x2":{"datum":1.265},"y":{"datum":0,"type":"quantitative","scale":{"domain":[0,7.44],"nice":false,"zero":false},"axis":null}}},
 {"data":{"name":"ticks"},"mark":{"type":"rule","strokeWidth":1.5,"color":"#111"},"encoding":{"x":{"field":"v","type":"quantitative","scale":{"domain":[-1.042,1.53],"nice":false,"zero":false},"axis":null},"y":{"datum":0,"type":"quantitative","scale":{"domain":[0,7.44],"nice":false,"zero":false},"axis":null},"y2":{"datum":-0.48}}},
 {"data":{"name":"bins"},"transform":[{"filter":"datum.panel==='OVRO'&&datum.cls==='HPQ'&&datum.n===1"}],"mark":{"type":"rect","stroke":"#111","strokeWidth":1.3,"fill":{"gradient":"linear","x1":0,"y1":0,"x2":1,"y2":1,"stops":[{"offset":0,"color":"#fff"},{"offset":0.135,"color":"#fff"},{"offset":0.135,"color":"#333"},{"offset":0.199,"color":"#333"},{"offset":0.199,"color":"#fff"},{"offset":0.468,"color":"#fff"},{"offset":0.468,"color":"#333"},{"offset":0.532,"color":"#333"},{"offset":0.532,"color":"#fff"},{"offset":0.801,"color":"#fff"},{"offset":0.801,"color":"#333"},{"offset":0.865,"color":"#333"},{"offset":0.865,"color":"#fff"},{"offset":1,"color":"#fff"}]}},"encoding":{"x":{"field":"lo","type":"quantitative","scale":{"domain":[-1.042,1.53],"nice":false,"zero":false},"axis":null},"x2":{"field":"hi"},"y":{"field":"n","type":"quantitative","scale":{"domain":[0,7.44],"nice":false,"zero":false},"axis":null},"y2":{"datum":0}}},
 {"data":{"name":"bins"},"transform":[{"filter":"datum.panel==='OVRO'&&datum.cls==='HPQ'&&datum.n===2"}],"mark":{"type":"rect","stroke":"#111","strokeWidth":1.3,"fill":{"gradient":"linear","x1":0,"y1":0,"x2":0.6,"y2":1.2,"stops":[{"offset":0,"color":"#fff"},{"offset":0.09,"color":"#fff"},{"offset":0.09,"color":"#333"},{"offset":0.132,"color":"#333"},{"offset":0.132,"color":"#fff"},{"offset":0.312,"color":"#fff"},{"offset":0.312,"color":"#333"},{"offset":0.354,"color":"#333"},{"offset":0.354,"color":"#fff"},{"offset":0.535,"color":"#fff"},{"offset":0.535,"color":"#333"},{"offset":0.577,"color":"#333"},{"offset":0.577,"color":"#fff"},{"offset":0.757,"color":"#fff"},{"offset":0.757,"color":"#333"},{"offset":0.799,"color":"#333"},{"offset":0.799,"color":"#fff"},{"offset":1,"color":"#fff"}]}},"encoding":{"x":{"field":"lo","type":"quantitative","scale":{"domain":[-1.042,1.53],"nice":false,"zero":false},"axis":null},"x2":{"field":"hi"},"y":{"field":"n","type":"quantitative","scale":{"domain":[0,7.44],"nice":false,"zero":false},"axis":null},"y2":{"datum":0}}},
 {"data":{"name":"bins"},"transform":[{"filter":"datum.panel==='OVRO'&&datum.cls==='HPQ'&&datum.n===3"}],"mark":{"type":"rect","stroke":"#111","strokeWidth":1.3,"fill":{"gradient":"linear","x1":0,"y1":0,"x2":0.4,"y2":1.2,"stops":[{"offset":0,"color":"#fff"},{"offset":0.067,"color":"#fff"},{"offset":0.067,"color":"#333"},{"offset":0.099,"color":"#333"},{"offset":0.099,"color":"#fff"},{"offset":0.234,"color":"#fff"},{"offset":0.234,"color":"#333"},{"offset":0.266,"color":"#333"},{"offset":0.266,"color":"#fff"},{"offset":0.401,"color":"#fff"},{"offset":0.401,"color":"#333"},{"offset":0.433,"color":"#333"},{"offset":0.433,"color":"#fff"},{"offset":0.567,"color":"#fff"},{"offset":0.567,"color":"#333"},{"offset":0.599,"color":"#333"},{"offset":0.599,"color":"#fff"},{"offset":0.734,"color":"#fff"},{"offset":0.734,"color":"#333"},{"offset":0.766,"color":"#333"},{"offset":0.766,"color":"#fff"},{"offset":0.901,"color":"#fff"},{"offset":0.901,"color":"#333"},{"offset":0.933,"color":"#333"},{"offset":0.933,"color":"#fff"},{"offset":1,"color":"#fff"}]}},"encoding":{"x":{"field":"lo","type":"quantitative","scale":{"domain":[-1.042,1.53],"nice":false,"zero":false},"axis":null},"x2":{"field":"hi"},"y":{"field":"n","type":"quantitative","scale":{"domain":[0,7.44],"nice":false,"zero":false},"axis":null},"y2":{"datum":0}}}
]},
{"width": 643, "height": 101, "layer": [
 {"data":{"values":[{}]},"mark":{"type":"rule","strokeWidth":2.5,"color":"#111"},"encoding":{"x":{"datum":-1.042,"type":"quantitative","scale":{"domain":[-1.042,1.53],"nice":false,"zero":false},"axis":null}}},
 {"data":{"values":[{}]},"mark":{"type":"rule","strokeWidth":2.5,"color":"#111"},"encoding":{"x":{"datum":1.53,"type":"quantitative","scale":{"domain":[-1.042,1.53],"nice":false,"zero":false},"axis":null}}},
 {"data":{"values":[{}]},"mark":{"type":"rule","strokeWidth":1.5,"strokeDash":[9,4],"color":"#111"},"encoding":{"x":{"datum":-0.2,"type":"quantitative","scale":{"domain":[-1.042,1.53],"nice":false,"zero":false},"axis":null}}},
 {"data":{"values":[{}]},"mark":{"type":"rule","strokeWidth":1.6,"color":"#111"},"encoding":{"x":{"datum":-1.0,"type":"quantitative","scale":{"domain":[-1.042,1.53],"nice":false,"zero":false},"axis":null},"x2":{"datum":1.265},"y":{"datum":0,"type":"quantitative","scale":{"domain":[0,8.08],"nice":false,"zero":false},"axis":null}}},
 {"data":{"name":"ticks"},"mark":{"type":"rule","strokeWidth":1.5,"color":"#111"},"encoding":{"x":{"field":"v","type":"quantitative","scale":{"domain":[-1.042,1.53],"nice":false,"zero":false},"axis":null},"y":{"datum":0,"type":"quantitative","scale":{"domain":[0,8.08],"nice":false,"zero":false},"axis":null},"y2":{"datum":-0.48}}},
 {"data":{"name":"bins"},"transform":[{"filter":"datum.panel==='OVRO'&&datum.cls==='BL Lac'"}],"mark":{"type":"rect","fill":"#111","stroke":"#111","strokeWidth":1},"encoding":{"x":{"field":"lo","type":"quantitative","scale":{"domain":[-1.042,1.53],"nice":false,"zero":false},"axis":null},"x2":{"field":"hi"},"y":{"field":"n","type":"quantitative","scale":{"domain":[0,8.08],"nice":false,"zero":false},"axis":null},"y2":{"datum":0}}}
]},
{"width": 643, "height": 33, "layer": [
 {"data":{"values":[{}]},"mark":{"type":"rule","strokeWidth":2.5,"color":"#111"},"encoding":{"x":{"datum":-1.042,"type":"quantitative","scale":{"domain":[-1.042,1.53],"nice":false,"zero":false},"axis":null}}},
 {"data":{"values":[{}]},"mark":{"type":"rule","strokeWidth":2.5,"color":"#111"},"encoding":{"x":{"datum":1.53,"type":"quantitative","scale":{"domain":[-1.042,1.53],"nice":false,"zero":false},"axis":null}}},
 {"data":{"values":[{}]},"mark":{"type":"rule","strokeWidth":1.5,"strokeDash":[9,4],"color":"#111"},"encoding":{"x":{"datum":-0.2,"type":"quantitative","scale":{"domain":[-1.042,1.53],"nice":false,"zero":false},"axis":null}}}
]},
{"width": 643, "height": 99, "layer": [
 {"data":{"values":[{}]},"mark":{"type":"rule","strokeWidth":2.5,"color":"#111"},"encoding":{"x":{"datum":-1.042,"type":"quantitative","scale":{"domain":[-1.042,1.53],"nice":false,"zero":false},"axis":null}}},
 {"data":{"values":[{}]},"mark":{"type":"rule","strokeWidth":2.5,"color":"#111"},"encoding":{"x":{"datum":1.53,"type":"quantitative","scale":{"domain":[-1.042,1.53],"nice":false,"zero":false},"axis":null}}},
 {"data":{"values":[{}]},"mark":{"type":"rule","strokeWidth":2.5,"color":"#111"},"encoding":{"y":{"datum":7.92,"type":"quantitative","scale":{"domain":[0,7.92],"nice":false,"zero":false},"axis":null}}},
 {"data":{"values":[{}]},"mark":{"type":"rule","strokeWidth":1.5,"strokeDash":[9,4],"color":"#111"},"encoding":{"x":{"datum":-0.2,"type":"quantitative","scale":{"domain":[-1.042,1.53],"nice":false,"zero":false},"axis":null}}},
 {"data":{"values":[{}]},"mark":{"type":"rule","strokeWidth":1.6,"color":"#111"},"encoding":{"x":{"datum":-1.0,"type":"quantitative","scale":{"domain":[-1.042,1.53],"nice":false,"zero":false},"axis":null},"x2":{"datum":1.21},"y":{"datum":0,"type":"quantitative","scale":{"domain":[0,7.92],"nice":false,"zero":false},"axis":null}}},
 {"data":{"name":"ticks"},"mark":{"type":"rule","strokeWidth":1.5,"color":"#111"},"encoding":{"x":{"field":"v","type":"quantitative","scale":{"domain":[-1.042,1.53],"nice":false,"zero":false},"axis":null},"y":{"datum":0,"type":"quantitative","scale":{"domain":[0,7.92],"nice":false,"zero":false},"axis":null},"y2":{"datum":-0.48}}},
 {"data":{"name":"bins"},"transform":[{"filter":"datum.panel==='IRAM'&&datum.cls==='LPQ'"}],"mark":{"type":"rect","fill":"white","stroke":"#111","strokeWidth":1.3},"encoding":{"x":{"field":"lo","type":"quantitative","scale":{"domain":[-1.042,1.53],"nice":false,"zero":false},"axis":null},"x2":{"field":"hi"},"y":{"field":"n","type":"quantitative","scale":{"domain":[0,7.92],"nice":false,"zero":false},"axis":null},"y2":{"datum":0}}},
 {"data":{"values":[{}]},"mark":{"type":"text","align":"right","baseline":"alphabetic","font":"Lato","fontSize":30,"fontWeight":300,"fill":"#111"},"encoding":{"x":{"datum":1.506,"type":"quantitative","scale":{"domain":[-1.042,1.53],"nice":false,"zero":false},"axis":null},"y":{"datum":4.8,"type":"quantitative","scale":{"domain":[0,7.92],"nice":false,"zero":false},"axis":null},"text":{"value":"IRAM"}}},
 {"data":{"values":[{}]},"mark":{"type":"text","align":"right","baseline":"alphabetic","font":"DejaVu Sans","fontSize":18,"fontWeight":200,"fill":"#111"},"encoding":{"x":{"datum":1.506,"type":"quantitative","scale":{"domain":[-1.042,1.53],"nice":false,"zero":false},"axis":null},"y":{"datum":2.8,"type":"quantitative","scale":{"domain":[0,7.92],"nice":false,"zero":false},"axis":null},"text":{"value":"(90 GHz)"}}}
]},
{"width": 643, "height": 86, "layer": [
 {"data":{"values":[{}]},"mark":{"type":"rule","strokeWidth":2.5,"color":"#111"},"encoding":{"x":{"datum":-1.042,"type":"quantitative","scale":{"domain":[-1.042,1.53],"nice":false,"zero":false},"axis":null}}},
 {"data":{"values":[{}]},"mark":{"type":"rule","strokeWidth":2.5,"color":"#111"},"encoding":{"x":{"datum":1.53,"type":"quantitative","scale":{"domain":[-1.042,1.53],"nice":false,"zero":false},"axis":null}}},
 {"data":{"values":[{}]},"mark":{"type":"rule","strokeWidth":1.5,"strokeDash":[9,4],"color":"#111"},"encoding":{"x":{"datum":-0.2,"type":"quantitative","scale":{"domain":[-1.042,1.53],"nice":false,"zero":false},"axis":null}}},
 {"data":{"values":[{}]},"mark":{"type":"rule","strokeWidth":1.6,"color":"#111"},"encoding":{"x":{"datum":-1.0,"type":"quantitative","scale":{"domain":[-1.042,1.53],"nice":false,"zero":false},"axis":null},"x2":{"datum":1.21},"y":{"datum":0,"type":"quantitative","scale":{"domain":[0,6.88],"nice":false,"zero":false},"axis":null}}},
 {"data":{"name":"ticks"},"mark":{"type":"rule","strokeWidth":1.5,"color":"#111"},"encoding":{"x":{"field":"v","type":"quantitative","scale":{"domain":[-1.042,1.53],"nice":false,"zero":false},"axis":null},"y":{"datum":0,"type":"quantitative","scale":{"domain":[0,6.88],"nice":false,"zero":false},"axis":null},"y2":{"datum":-0.48}}},
 {"data":{"name":"bins"},"transform":[{"filter":"datum.panel==='IRAM'&&datum.cls==='HPQ'&&datum.n===1"}],"mark":{"type":"rect","stroke":"#111","strokeWidth":1.3,"fill":{"gradient":"linear","x1":0,"y1":0,"x2":1,"y2":1,"stops":[{"offset":0,"color":"#fff"},{"offset":0.135,"color":"#fff"},{"offset":0.135,"color":"#333"},{"offset":0.199,"color":"#333"},{"offset":0.199,"color":"#fff"},{"offset":0.468,"color":"#fff"},{"offset":0.468,"color":"#333"},{"offset":0.532,"color":"#333"},{"offset":0.532,"color":"#fff"},{"offset":0.801,"color":"#fff"},{"offset":0.801,"color":"#333"},{"offset":0.865,"color":"#333"},{"offset":0.865,"color":"#fff"},{"offset":1,"color":"#fff"}]}},"encoding":{"x":{"field":"lo","type":"quantitative","scale":{"domain":[-1.042,1.53],"nice":false,"zero":false},"axis":null},"x2":{"field":"hi"},"y":{"field":"n","type":"quantitative","scale":{"domain":[0,6.88],"nice":false,"zero":false},"axis":null},"y2":{"datum":0}}},
 {"data":{"name":"bins"},"transform":[{"filter":"datum.panel==='IRAM'&&datum.cls==='HPQ'&&datum.n===2"}],"mark":{"type":"rect","stroke":"#111","strokeWidth":1.3,"fill":{"gradient":"linear","x1":0,"y1":0,"x2":0.6,"y2":1.2,"stops":[{"offset":0,"color":"#fff"},{"offset":0.09,"color":"#fff"},{"offset":0.09,"color":"#333"},{"offset":0.132,"color":"#333"},{"offset":0.132,"color":"#fff"},{"offset":0.312,"color":"#fff"},{"offset":0.312,"color":"#333"},{"offset":0.354,"color":"#333"},{"offset":0.354,"color":"#fff"},{"offset":0.535,"color":"#fff"},{"offset":0.535,"color":"#333"},{"offset":0.577,"color":"#333"},{"offset":0.577,"color":"#fff"},{"offset":0.757,"color":"#fff"},{"offset":0.757,"color":"#333"},{"offset":0.799,"color":"#333"},{"offset":0.799,"color":"#fff"},{"offset":1,"color":"#fff"}]}},"encoding":{"x":{"field":"lo","type":"quantitative","scale":{"domain":[-1.042,1.53],"nice":false,"zero":false},"axis":null},"x2":{"field":"hi"},"y":{"field":"n","type":"quantitative","scale":{"domain":[0,6.88],"nice":false,"zero":false},"axis":null},"y2":{"datum":0}}},
 {"data":{"name":"bins"},"transform":[{"filter":"datum.panel==='IRAM'&&datum.cls==='HPQ'&&datum.n===3"}],"mark":{"type":"rect","stroke":"#111","strokeWidth":1.3,"fill":{"gradient":"linear","x1":0,"y1":0,"x2":0.4,"y2":1.2,"stops":[{"offset":0,"color":"#fff"},{"offset":0.067,"color":"#fff"},{"offset":0.067,"color":"#333"},{"offset":0.099,"color":"#333"},{"offset":0.099,"color":"#fff"},{"offset":0.234,"color":"#fff"},{"offset":0.234,"color":"#333"},{"offset":0.266,"color":"#333"},{"offset":0.266,"color":"#fff"},{"offset":0.401,"color":"#fff"},{"offset":0.401,"color":"#333"},{"offset":0.433,"color":"#333"},{"offset":0.433,"color":"#fff"},{"offset":0.567,"color":"#fff"},{"offset":0.567,"color":"#333"},{"offset":0.599,"color":"#333"},{"offset":0.599,"color":"#fff"},{"offset":0.734,"color":"#fff"},{"offset":0.734,"color":"#333"},{"offset":0.766,"color":"#333"},{"offset":0.766,"color":"#fff"},{"offset":0.901,"color":"#fff"},{"offset":0.901,"color":"#333"},{"offset":0.933,"color":"#333"},{"offset":0.933,"color":"#fff"},{"offset":1,"color":"#fff"}]}},"encoding":{"x":{"field":"lo","type":"quantitative","scale":{"domain":[-1.042,1.53],"nice":false,"zero":false},"axis":null},"x2":{"field":"hi"},"y":{"field":"n","type":"quantitative","scale":{"domain":[0,6.88],"nice":false,"zero":false},"axis":null},"y2":{"datum":0}}}
]},
{"width": 643, "height": 76, "layer": [
 {"data":{"values":[{}]},"mark":{"type":"rule","strokeWidth":2.5,"color":"#111"},"encoding":{"x":{"datum":-1.042,"type":"quantitative","scale":{"domain":[-1.042,1.53],"nice":false,"zero":false},"axis":null}}},
 {"data":{"values":[{}]},"mark":{"type":"rule","strokeWidth":2.5,"color":"#111"},"encoding":{"x":{"datum":1.53,"type":"quantitative","scale":{"domain":[-1.042,1.53],"nice":false,"zero":false},"axis":null}}},
 {"data":{"values":[{}]},"mark":{"type":"rule","strokeWidth":1.5,"strokeDash":[9,4],"color":"#111"},"encoding":{"x":{"datum":-0.2,"type":"quantitative","scale":{"domain":[-1.042,1.53],"nice":false,"zero":false},"axis":null}}},
 {"data":{"values":[{}]},"mark":{"type":"rule","strokeWidth":1.6,"color":"#111"},"encoding":{"x":{"datum":-1.0,"type":"quantitative","scale":{"domain":[-1.042,1.53],"nice":false,"zero":false},"axis":null},"x2":{"datum":1.21},"y":{"datum":0,"type":"quantitative","scale":{"domain":[0,6.08],"nice":false,"zero":false},"axis":null}}},
 {"data":{"name":"ticks"},"mark":{"type":"rule","strokeWidth":1.5,"color":"#111"},"encoding":{"x":{"field":"v","type":"quantitative","scale":{"domain":[-1.042,1.53],"nice":false,"zero":false},"axis":null},"y":{"datum":0,"type":"quantitative","scale":{"domain":[0,6.08],"nice":false,"zero":false},"axis":null},"y2":{"datum":-0.48}}},
 {"data":{"name":"ticklabels"},"mark":{"type":"text","align":"right","baseline":"middle","dx":14,"font":"Lato","fontSize":20,"fontWeight":300,"fill":"#111"},"encoding":{"x":{"field":"v","type":"quantitative","scale":{"domain":[-1.042,1.53],"nice":false,"zero":false},"axis":null},"y":{"datum":-1.76,"type":"quantitative","scale":{"domain":[0,6.08],"nice":false,"zero":false},"axis":null},"text":{"field":"label"}}},
 {"data":{"name":"bins"},"transform":[{"filter":"datum.panel==='IRAM'&&datum.cls==='BL Lac'"}],"mark":{"type":"rect","fill":"#111","stroke":"#111","strokeWidth":1},"encoding":{"x":{"field":"lo","type":"quantitative","scale":{"domain":[-1.042,1.53],"nice":false,"zero":false},"axis":null},"x2":{"field":"hi"},"y":{"field":"n","type":"quantitative","scale":{"domain":[0,6.08],"nice":false,"zero":false},"axis":null},"y2":{"datum":0}}}
]},
{"width": 643, "height": 43, "layer": [
 {"data":{"values":[{}]},"mark":{"type":"rule","strokeWidth":2.5,"color":"#111"},"encoding":{"x":{"datum":-1.042,"type":"quantitative","scale":{"domain":[-1.042,1.53],"nice":false,"zero":false},"axis":null}}},
 {"data":{"values":[{}]},"mark":{"type":"rule","strokeWidth":2.5,"color":"#111"},"encoding":{"x":{"datum":1.53,"type":"quantitative","scale":{"domain":[-1.042,1.53],"nice":false,"zero":false},"axis":null}}},
 {"data":{"values":[{}]},"mark":{"type":"rule","strokeWidth":1.5,"strokeDash":[9,4],"color":"#111"},"encoding":{"x":{"datum":-0.2,"type":"quantitative","scale":{"domain":[-1.042,1.53],"nice":false,"zero":false},"axis":null}}},
 {"data":{"values":[{}]},"mark":{"type":"rule","strokeWidth":2.5,"color":"#111"},"encoding":{"y":{"datum":0,"type":"quantitative","scale":{"domain":[0,3.44],"nice":false,"zero":false},"axis":null}}},
 {"data":{"values":[{}]},"mark":{"type":"text","align":"center","baseline":"alphabetic","font":"Lato","fontSize":24,"fontWeight":300,"fill":"#111"},"encoding":{"x":{"datum":0.132,"type":"quantitative","scale":{"domain":[-1.042,1.53],"nice":false,"zero":false},"axis":null},"y":{"datum":-2.16,"type":"quantitative","scale":{"domain":[0,3.44],"nice":false,"zero":false},"axis":null},"text":{"value":"RADIO SPECTRAL INDEX (α)"}}}
]}
]
}
